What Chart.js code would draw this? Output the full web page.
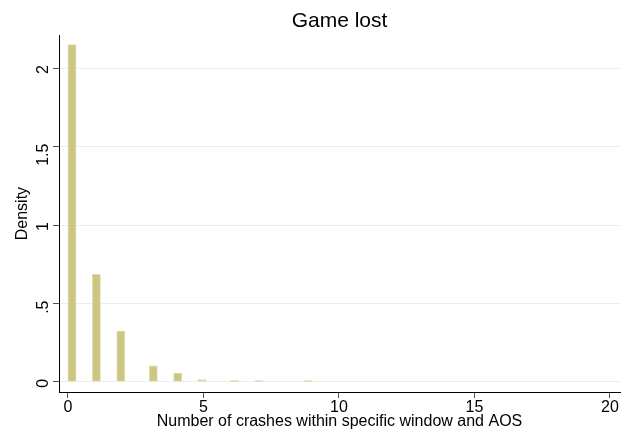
<!DOCTYPE html>
<html>
<head>
<meta charset="utf-8">
<title>Game lost</title>
<script src="https://cdn.jsdelivr.net/npm/chart.js@4/dist/chart.umd.min.js"></script>
<style>
    html, body { margin: 0; padding: 0; background: #ffffff; }
    #wrap { width: 631px; height: 441px; position: relative; }
</style>
</head>
<body>
<div id="wrap"><canvas id="histChart"></canvas></div>
<script>
// Histogram of crash counts (density scale)
const binWidth = 0.3;
const binLeft = [0, 0.9, 1.8, 3.0, 3.9, 4.8, 6.0, 6.9, 8.7];
const density = [2.15, 0.686, 0.325, 0.102, 0.057, 0.015, 0.008, 0.008, 0.008];
const xTicks = [0, 5, 10, 15, 20];
const yTicks = [0, 0.5, 1, 1.5, 2];
const xRange = [-0.33, 20.37];
const yRange = [-0.064, 2.21];

// every bin across the axis, empty ones at zero, so bars get the full bin width
const nBins = Math.ceil(xRange[1] / binWidth);
const bins = [];
for (let i = 0; i < nBins; i++) {
    bins.push({ x: (i + 0.5) * binWidth, y: 0 });
}
binLeft.forEach((left, k) => {
    bins[Math.round(left / binWidth)].y = density[k];
});

// Stata-style labels: ".5" rather than "0.5"
function stataNum(v) {
    let s = String(v);
    if (s.startsWith('0.')) s = s.slice(1);
    return s;
}

const font = 'Liberation Sans, Arial, Helvetica, sans-serif';

new Chart(document.getElementById('histChart'), {
    type: 'bar',
    data: {
        datasets: [{
            data: bins,
            backgroundColor: '#cdc683',
            borderColor: '#e2dda9',
            borderWidth: 1,
            borderSkipped: false,
            barPercentage: 1,
            categoryPercentage: 1
        }]
    },
    options: {
        responsive: true,
        maintainAspectRatio: false,
        animation: false,
        layout: { padding: { left: 0, right: 11, top: 0, bottom: 0 } },
        plugins: {
            legend: { display: false },
            tooltip: { enabled: false },
            title: {
                display: true,
                text: 'Game lost',
                color: '#000000',
                fullSize: false,
                font: { family: font, size: 21, weight: 'normal' },
                padding: { top: 9, bottom: 1 }
            }
        },
        scales: {
            x: {
                type: 'linear',
                min: xRange[0],
                max: xRange[1],
                offset: false,
                afterBuildTicks: (scale) => {
                    scale.ticks = xTicks.map(v => ({ value: v }));
                },
                afterFit: (scale) => { scale.height = 49; },
                grid: {
                    offset: false,
                    drawOnChartArea: false,
                    drawTicks: true,
                    tickLength: 6,
                    tickColor: '#555555'
                },
                border: { display: true, color: '#000000', width: 1 },
                ticks: {
                    color: '#000000',
                    font: { family: font, size: 16 },
                    padding: 0,
                    maxRotation: 0,
                    autoSkip: false
                },
                title: {
                    display: true,
                    text: 'Number of crashes within specific window and AOS',
                    color: '#000000',
                    font: { family: font, size: 16 },
                    padding: { top: 0, bottom: 10 }
                }
            },
            y: {
                min: yRange[0],
                max: yRange[1],
                afterBuildTicks: (scale) => {
                    scale.ticks = yTicks.map(v => ({ value: v }));
                },
                afterFit: (scale) => { scale.width = 59; },
                grid: {
                    color: '#e9f0f2',
                    drawTicks: true,
                    tickLength: 6,
                    tickColor: '#555555'
                },
                border: { display: true, color: '#000000', width: 1 },
                ticks: {
                    color: '#000000',
                    font: { family: font, size: 16 },
                    minRotation: 90,
                    maxRotation: 90,
                    padding: 9,
                    labelOffset: -3,
                    callback: (v) => stataNum(v)
                },
                title: {
                    display: true,
                    text: 'Density',
                    color: '#000000',
                    font: { family: font, size: 16 },
                    padding: { top: 13, bottom: 0 }
                }
            }
        }
    }
});
</script>
</body>
</html>
